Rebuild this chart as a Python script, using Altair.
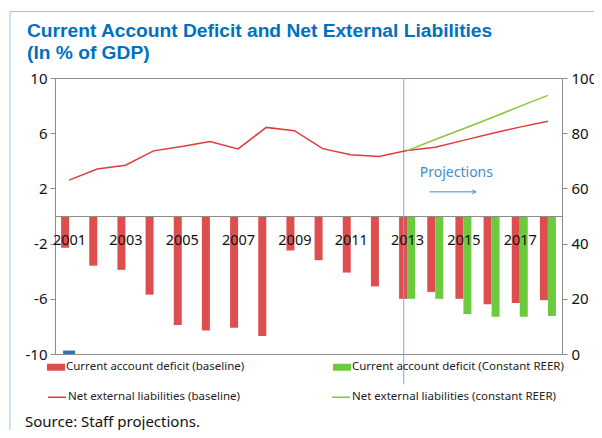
import altair as alt
import pandas as pd

# ---------------- data ----------------
years = list(range(2001, 2019))
cad_baseline = [-2.3, -3.6, -3.9, -5.7, -7.9, -8.3, -8.1, -8.7, -2.5, -3.2,
                -4.1, -5.1, -6.0, -5.5, -6.0, -6.4, -6.3, -6.1]
reer_years = [2013, 2014, 2015, 2016, 2017, 2018]
cad_reer = [-6.0, -6.0, -7.1, -7.3, -7.3, -7.25]
nel_baseline = [63.0, 67.0, 68.4, 73.6, 75.2, 77.0, 74.3, 82.1, 80.9, 74.4,
                72.2, 71.6, 73.7, 74.9, 77.4, 79.9, 82.2, 84.3]
nel_reer = [73.7, 77.7, 81.6, 85.6, 89.7, 93.7]
year_labels = [2001, 2003, 2005, 2007, 2009, 2011, 2013, 2015, 2017]
left_ticks = [-10, -6, -2, 2, 6, 10]
right_ticks = [0, 20, 40, 60, 80, 100]

S_CAD_B = "Current account deficit (baseline)"
S_CAD_R = "Current account deficit (Constant REER)"
S_NEL_B = "Net external liabilities (baseline)"
S_NEL_R = "Net external liabilities (constant REER)"

RED = "#DF4E4E"
GREEN = "#6CCB3C"
RED_LINE = "#E03A3A"
GREEN_LINE = "#8CC43C"
BLUE = "#3D8ECF"
GRAY = "#8C8C8C"
FONT = "Noto Sans"

bars_b = pd.DataFrame({"year": years, "value": cad_baseline, "series": S_CAD_B})
bars_r = pd.DataFrame({"year": reer_years, "value": cad_reer, "series": S_CAD_R})
lines = pd.concat([
    pd.DataFrame({"year": years, "value": nel_baseline, "series": S_NEL_B}),
    pd.DataFrame({"year": reer_years, "value": nel_reer, "series": S_NEL_R}),
])
marker = pd.DataFrame({"year": [2001], "lo": [-10.0], "hi": [-9.75]})
proj_line = pd.DataFrame({"year": [2012.88], "top": [10.0], "bottom": [-12.2]})
proj_text = pd.DataFrame({"year": [2014.75], "value": [3.1], "label": ["Projections"]})
proj_arrow = pd.DataFrame({"x0": [2013.8], "x1": [2015.44], "value": [1.75]})

xscale = alt.Scale(domain=[2000.5, 2018.5], nice=False, zero=False, padding=0)
yleft = alt.Scale(domain=[-10, 10], nice=False, zero=False, padding=0)
yright = alt.Scale(domain=[0, 100], nice=False, zero=False, padding=0)

xaxis = alt.Axis(values=year_labels, format="d", title=None, ticks=False, tickSize=0,
                 grid=False, domainColor=GRAY, offset=-138, labelPadding=17,
                 labelFont=FONT, labelFontSize=14.5, labelColor="#111",
                 labelFlush=False, labelOverlap=False, zindex=1)
yaxis_left = alt.Axis(values=left_ticks, title=None, grid=False, domain=False,
                      tickSize=5, tickColor=GRAY, labelPadding=3, labelFont=FONT,
                      labelFontSize=15, labelColor="#111",
                      labelExpr="datum.value + ''")
yaxis_right = alt.Axis(values=right_ticks, title=None, grid=False, domain=False,
                       orient="right", tickSize=5, tickColor=GRAY, labelPadding=4,
                       labelFont=FONT, labelFontSize=15, labelColor="#111")

fill_scale = alt.Scale(domain=[S_CAD_B, S_CAD_R], range=[RED, GREEN])
stroke_scale = alt.Scale(domain=[S_NEL_B, S_NEL_R], range=[RED_LINE, GREEN_LINE])

legend_common = dict(orient="none", direction="horizontal", columns=2, title=None,
                     labelFont=FONT, labelFontSize=11.5, labelColor="#222",
                     labelOffset=1, columnPadding=88, labelLimit=400)

fill_legend = alt.Legend(legendX=-8, legendY=280,
                         symbolType="M-1,-0.39L1,-0.39L1,0.39L-1,0.39Z",
                         symbolSize=324, symbolStrokeWidth=0, **legend_common)
stroke_legend = alt.Legend(legendX=-8, legendY=309, symbolType="stroke",
                           symbolSize=324, symbolStrokeWidth=1.5, **legend_common)

red_bars = alt.Chart(bars_b).mark_bar(width=8, xOffset=-4).encode(
    x=alt.X("year:Q", scale=xscale, axis=xaxis),
    y=alt.Y("value:Q", scale=yleft, axis=yaxis_left),
    fill=alt.Fill("series:N", scale=fill_scale, legend=fill_legend),
)
green_bars = alt.Chart(bars_r).mark_bar(width=8, xOffset=4).encode(
    x=alt.X("year:Q", scale=xscale),
    y=alt.Y("value:Q", scale=yleft),
    fill=alt.Fill("series:N", scale=fill_scale, legend=fill_legend),
)
blue_marker = alt.Chart(marker).mark_bar(width=12, color="#1F78C8").encode(
    x=alt.X("year:Q", scale=xscale),
    y=alt.Y("lo:Q", scale=yleft),
    y2="hi:Q",
)
vline = alt.Chart(proj_line).mark_rule(color="#74AEDC", strokeWidth=1, clip=False).encode(
    x=alt.X("year:Q", scale=xscale),
    y=alt.Y("top:Q", scale=yleft),
    y2="bottom:Q",
)
ptext = alt.Chart(proj_text).mark_text(font=FONT, fontSize=14, color=BLUE,
                                       align="center", baseline="middle").encode(
    x=alt.X("year:Q", scale=xscale),
    y=alt.Y("value:Q", scale=yleft),
    text="label:N",
)
arrow_shaft = alt.Chart(proj_arrow).mark_rule(color=BLUE, strokeWidth=1).encode(
    x=alt.X("x0:Q", scale=xscale),
    x2="x1:Q",
    y=alt.Y("value:Q", scale=yleft),
)
arrow_head = alt.Chart(proj_arrow).mark_point(
    shape="M-1,-0.55L0,0L-1,0.55", filled=False, size=49, color=BLUE, strokeWidth=1, opacity=1
).encode(
    x=alt.X("x1:Q", scale=xscale),
    y=alt.Y("value:Q", scale=yleft),
)
source = alt.Chart(pd.DataFrame({"t": ["Source: Staff projections."]})).mark_text(
    font=FONT, fontSize=15, color="#111", align="left", baseline="alphabetic"
).encode(x=alt.value(-30), y=alt.value(349), text="t:N")
border = alt.Chart(pd.DataFrame({"a": [0]})).mark_rule(color="#9DC3E6", strokeWidth=1, clip=False).encode(
    x=alt.value(-45), y=alt.value(-66.5), y2=alt.value(400)
)
border_top = alt.Chart(pd.DataFrame({"a": [0]})).mark_rule(color="#9DC3E6", strokeWidth=1, clip=False).encode(
    x=alt.value(-45), x2=alt.value(600), y=alt.value(-66.5)
)

left_layer = alt.layer(red_bars, green_bars, blue_marker, vline, ptext, arrow_shaft,
                       arrow_head, source, border, border_top)

line_layer = alt.Chart(lines).mark_line(strokeWidth=1.5).encode(
    x=alt.X("year:Q", scale=xscale),
    y=alt.Y("value:Q", scale=yright, axis=yaxis_right),
    stroke=alt.Stroke("series:N", scale=stroke_scale, legend=stroke_legend),
)

chart = alt.layer(left_layer, line_layer).resolve_scale(y="independent").properties(
    width=507,
    height=276,
    autosize=alt.AutoSizeParams(type="none"),
    padding={"left": 47, "top": 70, "right": 32, "bottom": 76},
    title=alt.Title(
        ["Current Account Deficit and Net External Liabilities", "(In % of GDP)"],
        anchor="start", frame="group", dx=-28, offset=-52.5,
        font="Liberation Sans", fontSize=19.2, fontWeight="bold",
        color="#0070C0", lineHeight=22.5,
    ),
).configure_view(stroke=GRAY, strokeWidth=1)

chart.save("out.html", embed_options={"renderer": "svg", "actions": False})
